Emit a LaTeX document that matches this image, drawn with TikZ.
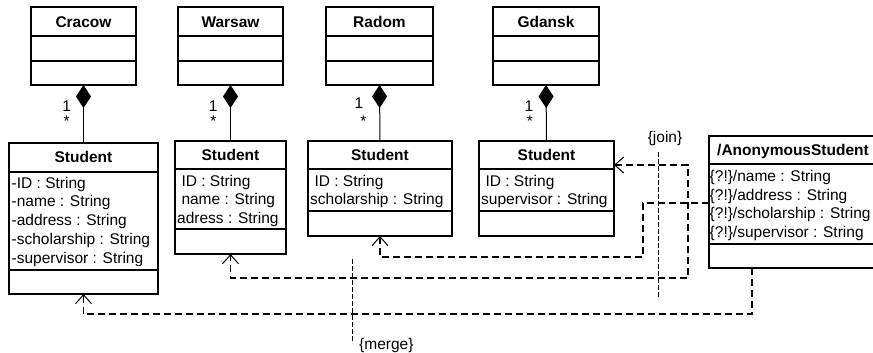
\documentclass[tikz,border=0pt]{standalone}
\usepackage{fontspec}
\setmainfont{Liberation Sans}
\usetikzlibrary{arrows.meta}
\begin{document}
\begin{tikzpicture}[x=1pt,y=-1pt,
  box/.style={draw, line width=1.2pt, inner sep=0pt, outer sep=0pt, anchor=north west},
  sepline/.style={line width=1.2pt},
  title/.style={font=\fontsize{15.5}{18}\selectfont\bfseries, anchor=base, inner sep=0pt},
  attr/.style={font=\fontsize{15.5}{18}\selectfont, anchor=base west, inner sep=0pt},
  mult/.style={font=\fontsize{15.5}{18}\selectfont, anchor=base, inner sep=0pt},
  comp/.style={line width=1pt, {Diamond[length=23pt,width=15pt]}-},
  dline/.style={line width=1.5pt, dash pattern=on 7pt off 4pt},
  cons/.style={line width=1pt, dash pattern=on 5pt off 2pt},
  >={Straight Barb[length=9pt,width=16pt,line width=1pt]}]
\useasboundingbox (0,0) rectangle (873,353);

% city classes
\node[box, minimum width=105pt, minimum height=78pt] (cracow) at (31,7) {};
\node[box, minimum width=105pt, minimum height=78pt] (warsaw) at (178,7) {};
\node[box, minimum width=107pt, minimum height=78pt] (radom) at (326,7) {};
\node[box, minimum width=106pt, minimum height=78pt] (gdansk) at (493,7) {};
\foreach \a/\b in {31/136,178/283,326/433,493/599}{
  \draw[sepline] (\a,36) -- (\b,36);
  \draw[sepline] (\a,61) -- (\b,61);
}
\node[title] (tcracow) at (83.5,28) {Cracow};
\node[title] (twarsaw) at (230.5,28) {Warsaw};
\node[title] (tradom) at (379.5,28) {Radom};
\node[title] (tgdansk) at (546,28) {Gdansk};

% student classes
\node[box, minimum width=149pt, minimum height=151pt] (stu1) at (9,143) {};
\draw[sepline] (9,172) -- (158,172);
\draw[sepline] (9,270) -- (158,270);
\node[title] (ts1) at (83.5,162) {Student};
\node[attr] (s1a) at (11.5,188) {-ID : String};
\node[attr] (s1b) at (11.5,206.8) {-name : String};
\node[attr] (s1c) at (11.5,225.6) {-address : String};
\node[attr] (s1d) at (11.5,244.4) {-scholarship : String};
\node[attr] (s1e) at (11.5,263.2) {-supervisor : String};

\node[box, minimum width=111pt, minimum height=113pt] (stu2) at (175,141) {};
\draw[sepline] (175,169) -- (286,169);
\draw[sepline] (175,229) -- (286,229);
\node[title] (ts2) at (230.5,160.5) {Student};
\node[attr] (s2a) at (177,186) {\ ID : String};
\node[attr] (s2b) at (177,204.5) {\ name : String};
\node[attr] (s2c) at (177,223) {adress : String};

\node[box, minimum width=144pt, minimum height=95pt] (stu3) at (308,141) {};
\draw[sepline] (308,169) -- (452,169);
\draw[sepline] (308,211) -- (452,211);
\node[title] (ts3) at (380,160.5) {Student};
\node[attr] (s3a) at (310,186) {\ ID : String};
\node[attr] (s3b) at (310,204.5) {scholarship : String};

\node[box, minimum width=135pt, minimum height=95pt] (stu4) at (479,141) {};
\draw[sepline] (479,169) -- (614,169);
\draw[sepline] (479,211) -- (614,211);
\node[title] (ts4) at (546.5,160.5) {Student};
\node[attr] (s4a) at (481,186) {\ ID : String};
\node[attr] (s4b) at (481,204.5) {supervisor : String};

% anonymous student
\node[box, minimum width=169pt, minimum height=132pt] (anon) at (709,136) {};
\draw[sepline] (709,164) -- (878,164);
\draw[sepline] (709,244) -- (878,244);
\node[title] (tan) at (793,155) {/AnonymousStudent};
\node[attr] (aa) at (709.5,181.5) {\{?!\}/name : String};
\node[attr] (ab) at (709.5,200) {\{?!\}/address : String};
\node[attr] (ac) at (709.5,218.5) {\{?!\}/scholarship : String};
\node[attr] (ad) at (709.5,237) {\{?!\}/supervisor : String};

% compositions
\draw[comp] (cracow.south) -- (stu1.north);
\draw[comp] (warsaw.south) -- (stu2.north);
\draw[comp] (radom.south) -- (stu3.north);
\draw[comp] (gdansk.south) -- (stu4.north);
\node[mult] (m1a) at (66.7,111.5) {1};
\node[mult] (m1b) at (66.7,126.5) {*};
\node[mult] (m2a) at (213.3,111) {1};
\node[mult] (m2b) at (213.3,126.5) {*};
\node[mult] (m3a) at (359,108.3) {1};
\node[mult] (m3b) at (363.3,126) {*};
\node[mult] (m4a) at (529,111.3) {1};
\node[mult] (m4b) at (530,126.5) {*};

% dependencies
\draw[dline,->] (anon.west |- 0,203) -- (643,203) -- (643,257) -| (stu3.south);
\draw[dline,<->] (stu4.east |- 0,165) -- (688,165) -- (688,278) -| (stu2.south);
\draw[dline,->] ([xshift=43pt]anon.south west) -- (752,314) -| (stu1.south);

% constraints
\coordinate (j1) at (658,152);
\coordinate (j2) at (658,297);
\draw[cons] (j1) -- (j2);
\node[mult] (join) at (665,142) {\{join\}};
\coordinate (g1) at (352,259);
\coordinate (g2) at (352,341);
\draw[cons] (g1) -- (g2);
\node[attr] (merge) at (359,349) {\{merge\}};
\end{tikzpicture}
\end{document}
